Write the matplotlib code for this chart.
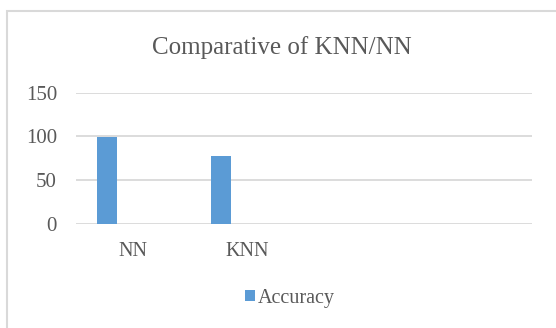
import matplotlib
matplotlib.use('Agg')
import matplotlib.pyplot as plt
from matplotlib.patches import Rectangle, Patch

# Data (two empty category slots follow the named ones)
CATEGORIES = ['NN', 'KNN', '', '']
ACCURACY   = [99, 78]
Y_TICKS    = [0, 50, 100, 150]

BAR_COLOR  = '#5b9bd5'
GRID_COLOR = '#d9d9d9'
TEXT_COLOR = '#595959'

plt.rcParams['font.family'] = ['Liberation Serif', 'DejaVu Serif']

W, H = 556, 328
fig = plt.figure(figsize=(W / 100, H / 100), dpi=100)

# chart frame (left/top edges visible)
fig.patches.append(Rectangle((7.3 / W, -0.2), 1.2, (H - 10.7) / H + 0.2,
                             transform=fig.transFigure, fill=False,
                             edgecolor=GRID_COLOR, linewidth=1.5))

left, right = 75.7 / W, 532.3 / W
bottom, top = (H - 224) / H, (H - 92.7) / H
ax = fig.add_axes([left, bottom, right - left, top - bottom])

xs = [i - 0.224 for i in range(len(ACCURACY))]
ax.bar(xs, ACCURACY, width=0.173, color=BAR_COLOR, zorder=3)

ax.set_xlim(-0.5, len(CATEGORIES) - 0.5)
ax.set_ylim(0, 150)
ax.set_yticks(Y_TICKS)
ax.set_yticklabels([str(t) for t in Y_TICKS], fontsize=15, color=TEXT_COLOR)
ax.set_xticks(range(len(CATEGORIES)))
ax.set_xticklabels(CATEGORIES, fontsize=14.5, color=TEXT_COLOR)
ax.tick_params(axis='y', length=0, pad=13.5)
ax.tick_params(axis='x', length=0, pad=13)

ax.grid(True, axis='y', color=GRID_COLOR, linewidth=1.3, zorder=0)
for s in ax.spines.values():
    s.set_visible(False)
ax.set_facecolor('none')

fig.text(281.5 / W, (H - 54) / H, 'Comparative of KNN/NN', ha='center',
         va='baseline', fontsize=18, color=TEXT_COLOR)

handle = Patch(facecolor=BAR_COLOR, edgecolor='none')
fig.legend([handle], ['Accuracy'], loc='center', bbox_to_anchor=(290 / W, (H - 298) / H),
           frameon=False, fontsize=14.5, labelcolor=TEXT_COLOR,
           handlelength=0.5, handleheight=0.5, handletextpad=0.15,
           borderpad=0, borderaxespad=0)

fig.savefig('out.png', dpi=100)
